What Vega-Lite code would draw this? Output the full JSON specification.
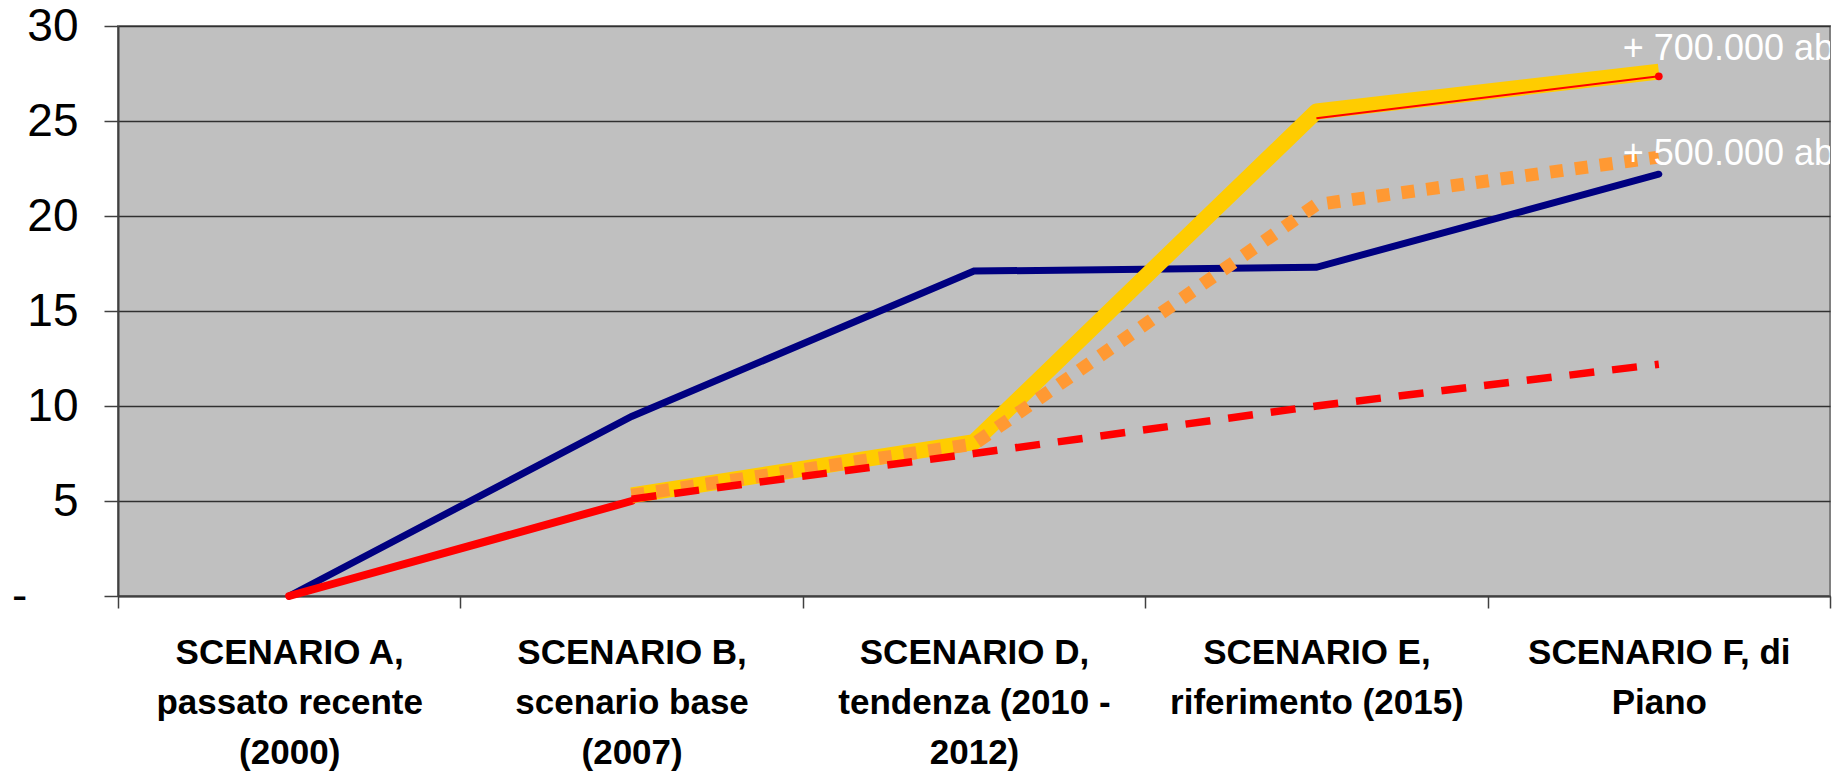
{
  "$schema": "https://vega.github.io/schema/vega-lite/v6.json",
  "autosize": {"type": "none"},
  "padding": {"left": 118, "top": 26, "right": 12, "bottom": 176},
  "width": 1712,
  "height": 570,
  "background": "white",
  "config": {
    "view": {"fill": "#C0C0C0", "stroke": "#808080", "strokeWidth": 2},
    "font": "Liberation Sans"
  },
  "data": {
    "values": [
      {"series": "navy", "scenario": "SCENARIO A,|passato recente|(2000)", "value": 0},
      {"series": "navy", "scenario": "SCENARIO B,|scenario base|(2007)", "value": 9.45},
      {"series": "navy", "scenario": "SCENARIO D,|tendenza (2010 -|2012)", "value": 17.1},
      {"series": "navy", "scenario": "SCENARIO E,|riferimento (2015)", "value": 17.3},
      {"series": "navy", "scenario": "SCENARIO F, di|Piano", "value": 22.2},
      {"series": "redsolid", "scenario": "SCENARIO A,|passato recente|(2000)", "value": 0},
      {"series": "redsolid", "scenario": "SCENARIO B,|scenario base|(2007)", "value": 5.0},
      {"series": "yellow", "scenario": "SCENARIO B,|scenario base|(2007)", "value": 5.3},
      {"series": "yellow", "scenario": "SCENARIO D,|tendenza (2010 -|2012)", "value": 8.1},
      {"series": "yellow", "scenario": "SCENARIO E,|riferimento (2015)", "value": 25.5},
      {"series": "yellow", "scenario": "SCENARIO F, di|Piano", "value": 27.6},
      {"series": "orange", "scenario": "SCENARIO B,|scenario base|(2007)", "value": 5.3},
      {"series": "orange", "scenario": "SCENARIO D,|tendenza (2010 -|2012)", "value": 8.0},
      {"series": "orange", "scenario": "SCENARIO E,|riferimento (2015)", "value": 20.6},
      {"series": "orange", "scenario": "SCENARIO F, di|Piano", "value": 23.1},
      {"series": "reddash", "scenario": "SCENARIO B,|scenario base|(2007)", "value": 5.1},
      {"series": "reddash", "scenario": "SCENARIO D,|tendenza (2010 -|2012)", "value": 7.5},
      {"series": "reddash", "scenario": "SCENARIO E,|riferimento (2015)", "value": 10.0},
      {"series": "reddash", "scenario": "SCENARIO F, di|Piano", "value": 12.2},
      {"series": "redthin", "scenario": "SCENARIO E,|riferimento (2015)", "value": 25.15},
      {"series": "redthin", "scenario": "SCENARIO F, di|Piano", "value": 27.35},
      {"series": "label", "scenario": "SCENARIO F, di|Piano", "value": 28.2, "text": "+ 700.000 ab"},
      {"series": "label", "scenario": "SCENARIO F, di|Piano", "value": 22.7, "text": "+ 500.000 ab"}
    ]
  },
  "encoding": {
    "x": {
      "field": "scenario",
      "type": "nominal",
      "bandPosition": 0.5,
      "scale": {
        "type": "band",
        "domain": [
          "SCENARIO A,|passato recente|(2000)",
          "SCENARIO B,|scenario base|(2007)",
          "SCENARIO D,|tendenza (2010 -|2012)",
          "SCENARIO E,|riferimento (2015)",
          "SCENARIO F, di|Piano"
        ],
        "paddingInner": 0,
        "paddingOuter": 0
      },
      "axis": {
        "title": null,
        "labelAngle": 0,
        "labelExpr": "split(datum.label, '|')",
        "labelFont": "Liberation Sans",
        "labelFontWeight": "bold",
        "labelFontSize": 35,
        "labelColor": "black",
        "labelLineHeight": 50,
        "labelBaseline": "top",
        "labelAlign": "center",
        "labelPadding": 27,
        "labelLimit": 0,
        "labelOverlap": false,
        "tickBand": "extent",
        "tickSize": 12,
        "tickColor": "#404040",
        "tickWidth": 1.5,
        "domainColor": "#404040",
        "domainWidth": 2,
        "grid": false
      }
    },
    "y": {
      "field": "value",
      "type": "quantitative",
      "scale": {"domain": [0, 30], "nice": false, "zero": true},
      "axis": {
        "title": null,
        "values": [0, 5, 10, 15, 20, 25, 30],
        "labelExpr": "datum.value == 0 ? '-\u00a0\u00a0\u00a0\u00a0\u200b' : datum.label",
        "labelFont": "Liberation Sans",
        "labelFontSize": 46,
        "labelColor": "black",
        "labelPadding": 26,
        "labelLimit": 0,
        "labelOverlap": false,
        "tickSize": 14,
        "tickColor": "#404040",
        "tickWidth": 1.5,
        "domainColor": "#404040",
        "domainWidth": 2,
        "grid": true,
        "gridColor": "#303030",
        "gridWidth": 1.3
      }
    }
  },
  "layer": [
    {
      "transform": [{"filter": "datum.series == 'navy'"}],
      "mark": {"type": "line", "color": "#000080", "strokeWidth": 7, "strokeCap": "round"}
    },
    {
      "transform": [{"filter": "datum.series == 'redsolid'"}],
      "mark": {"type": "line", "color": "#FF0000", "strokeWidth": 8, "strokeCap": "round"}
    },
    {
      "transform": [{"filter": "datum.series == 'yellow'"}],
      "mark": {"type": "line", "color": "#FFCC00", "strokeWidth": 16, "strokeJoin": "round"}
    },
    {
      "transform": [{"filter": "datum.series == 'orange'"}],
      "mark": {"type": "line", "color": "#FF9933", "strokeWidth": 13, "strokeDash": [13, 12]}
    },
    {
      "transform": [{"filter": "datum.series == 'reddash'"}],
      "mark": {"type": "line", "color": "#FF0000", "strokeWidth": 7.5, "strokeDash": [25, 18]}
    },
    {
      "transform": [{"filter": "datum.series == 'redthin'"}],
      "mark": {"type": "line", "color": "#FF0000", "strokeWidth": 2}
    },
    {
      "transform": [{"filter": "datum.series == 'redthin' && datum.value > 27"}],
      "mark": {"type": "point", "filled": true, "color": "#FF0000", "size": 60, "opacity": 1}
    },
    {
      "transform": [{"filter": "datum.series == 'label'"}],
      "mark": {"type": "text", "color": "white", "fontSize": 36, "font": "Liberation Sans", "align": "left", "baseline": "alphabetic", "dx": -36, "clip": true},
      "encoding": {"text": {"field": "text", "type": "nominal"}}
    }
  ]
}
